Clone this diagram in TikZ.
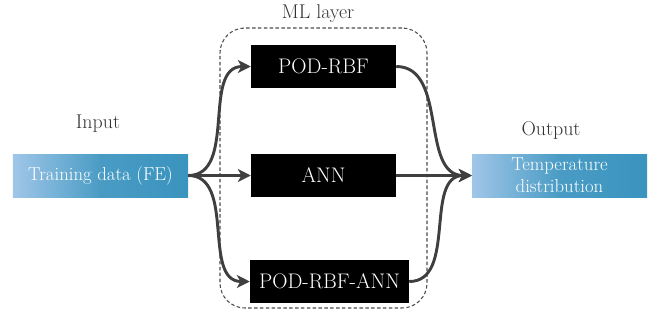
\documentclass[tikz,border=0pt]{standalone}
\usetikzlibrary{arrows.meta}
\definecolor{lightb}{HTML}{A0C6E8}
\definecolor{darkb}{HTML}{3A94BE}
\definecolor{arrc}{HTML}{3F3F3F}
\begin{document}
\begin{tikzpicture}[x=0.03cm,y=-0.03cm,
  font=\fontsize{17}{19}\selectfont,
  iobox/.style={minimum width=5.25cm,minimum height=1.29cm,inner sep=0pt,
    left color=lightb,right color=darkb,middle color=darkb!85!lightb,text=white,align=center,
    font=\fontsize{16}{18.5}\selectfont},
  mlbox/.style={fill=black,text=white,minimum width=4.35cm,minimum height=1.29cm,inner sep=0pt,
    font=\fontsize{18}{20}\selectfont},
  arr/.style={draw=arrc,line width=2.5pt,-{Stealth[length=11pt,width=11pt,inset=3pt]}},
  lbl/.style={text=black!80}
]
\useasboundingbox (0,0) rectangle (657,328);
\node[draw=black!70,dashed,line width=0.9pt,dash pattern=on 3pt off 2pt,rounded corners=0.75cm,
  minimum width=6.21cm,minimum height=8.4cm] (ml) at (323.5,168) {};
\node[lbl] (mllbl) at (318,14) {ML layer};
\node[lbl] (inlbl) at (98,124) {Input};
\node[lbl] (outlbl) at (551,130) {Output};
\node[iobox] (train) at (100.5,175.5) {Training data (FE)};
\node[iobox] (outp) at (559.5,175.5) {Temperature\\distribution};
\node[mlbox] (pod) at (323.5,66.5) {POD-RBF};
\node[mlbox] (ann) at (323.5,175.5) {ANN};
\node[mlbox,minimum width=4.77cm] (podann) at (329.5,281.5) {POD-RBF-ANN};
\draw[arr] (train.east) to[out=0,in=180] (pod.west);
\draw[arr] (train.east) -- (ann.west);
\draw[arr] (train.east) to[out=0,in=180] (podann.west);
\draw[arr] (pod.east) to[out=0,in=180] (outp.west);
\draw[arr] (ann.east) -- (outp.west);
\draw[arr] (podann.east) to[out=0,in=180] (outp.west);
\end{tikzpicture}
\end{document}
